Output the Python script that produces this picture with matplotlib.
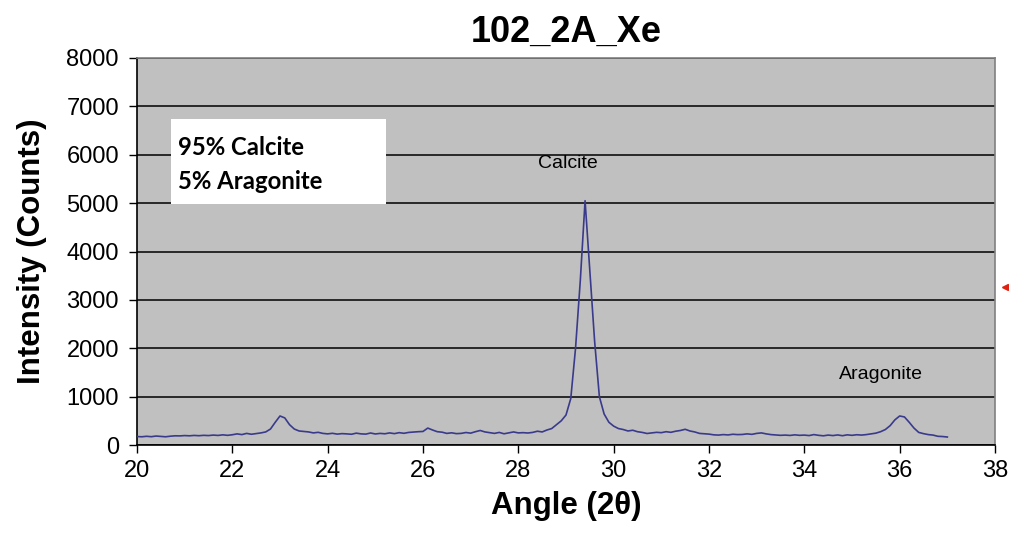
import numpy as np
import matplotlib
matplotlib.use("Agg")
import matplotlib.pyplot as plt
from matplotlib.patches import Rectangle
from matplotlib.lines import Line2D

plt.rcParams['font.family'] = ['Liberation Sans', 'DejaVu Sans']

# Scan sampling (degrees 2-theta)
angle_start = 20.0
angle_step = 0.1
intensity = [
    175, 170, 180, 172, 185, 178, 170, 182, 190, 188,   # 20.0-20.9
    195, 190, 198, 192, 200, 195, 205, 198, 210, 200,   # 21.0-21.9
    212, 230, 215, 240, 222, 235, 250, 270, 330, 470,   # 22.0-22.9
    600, 560, 420, 330, 290, 280, 270, 250, 262, 240,   # 23.0-23.9
    230, 242, 225, 235, 230, 222, 245, 230, 225, 248,   # 24.0-24.9
    228, 240, 232, 250, 235, 255, 242, 260, 268, 275,   # 25.0-25.9
    280, 350, 310, 275, 265, 240, 252, 235, 240, 258,   # 26.0-26.9
    245, 275, 300, 270, 255, 240, 260, 232, 250, 270,   # 27.0-27.9
    250, 255, 248, 260, 285, 270, 310, 340, 420, 500,   # 28.0-28.9
    620, 960, 2000, 3400, 5050, 3600, 2150, 1000, 640, 470,  # 29.0-29.9
    390, 340, 320, 290, 305, 275, 260, 238, 250, 262,   # 30.0-30.9
    255, 275, 262, 285, 300, 325, 290, 270, 240, 232,   # 31.0-31.9
    225, 210, 205, 215, 208, 222, 215, 218, 230, 220,   # 32.0-32.9
    240, 250, 230, 215, 208, 200, 205, 198, 210, 200,   # 33.0-33.9
    205, 195, 215, 200, 190, 205, 195, 208, 192, 210,   # 34.0-34.9
    200, 212, 205, 215, 230, 245, 275, 320, 400, 520,   # 35.0-35.9
    600, 580, 470, 350, 260, 235, 215, 205, 180, 175,   # 36.0-36.9
    165,                                                # 37.0
]
angles = np.round(angle_start + angle_step * np.arange(len(intensity)), 1)

x_ticks = [20, 22, 24, 26, 28, 30, 32, 34, 36, 38]
y_ticks = [0, 1000, 2000, 3000, 4000, 5000, 6000, 7000, 8000]

title = "102_2A_Xe"
x_label = "Angle (2θ)"
y_label = "Intensity (Counts)"
composition = ["95% Calcite", "5% Aragonite"]
peak_labels = [("Calcite", 29.04, 5820), ("Aragonite", 35.6, 1450)]

fig = plt.figure(figsize=(10.09, 5.42), dpi=100, facecolor='white')
ax = fig.add_axes([137 / 1009, 1 - 445 / 542, (995 - 137) / 1009, (445 - 58) / 542])
ax.set_facecolor('#C0C0C0')

ax.plot(angles, intensity, color='#3a3a8c', linewidth=1.2, zorder=3)

ax.set_xlim(20, 38)
ax.set_ylim(0, 8000)
ax.set_xticks(x_ticks)
ax.set_yticks(y_ticks)
ax.set_yticklabels([str(v) for v in y_ticks])
ax.tick_params(axis='both', labelsize=17, length=6, width=1, color='black', direction='out')
ax.tick_params(axis='y', pad=7)
ax.tick_params(axis='x', pad=5)

ax.yaxis.grid(True, color='black', linewidth=1.1)
ax.set_axisbelow(True)
for side in ('left', 'bottom'):
    ax.spines[side].set_color('black')
    ax.spines[side].set_linewidth(1.2)
for side in ('right', 'top'):
    ax.spines[side].set_color('#808080')
    ax.spines[side].set_linewidth(1.2)

ax.set_title(title, fontsize=26, fontweight='bold', pad=12)
ax.set_xlabel(x_label, fontsize=22.5, fontweight='bold', labelpad=6)
ax.set_ylabel(y_label, fontsize=22.5, fontweight='bold', labelpad=14)

# Composition box
ax.add_patch(Rectangle((20.72, 4980), 4.5, 1755, facecolor='white', edgecolor='none', zorder=4))
ax.text(20.86, 5990, composition[0], fontsize=17.2, fontweight='bold', family=['Lato', 'DejaVu Sans'],
        va='baseline', ha='left', zorder=5)
ax.text(20.86, 5300, composition[1], fontsize=17.2, fontweight='bold', family=['Lato', 'DejaVu Sans'],
        va='baseline', ha='left', zorder=5)

for name, xv, yv in peak_labels:
    ax.text(xv, yv, name, fontsize=14, ha='center', va='center', zorder=5)

# Small red pointer at the right margin
fig.add_artist(Line2D([1005 / 1009], [1 - 287 / 542], marker='<', color='#e02010',
                      markersize=5, linestyle='none', transform=fig.transFigure))

fig.savefig('out.png', dpi=100, facecolor='white')
